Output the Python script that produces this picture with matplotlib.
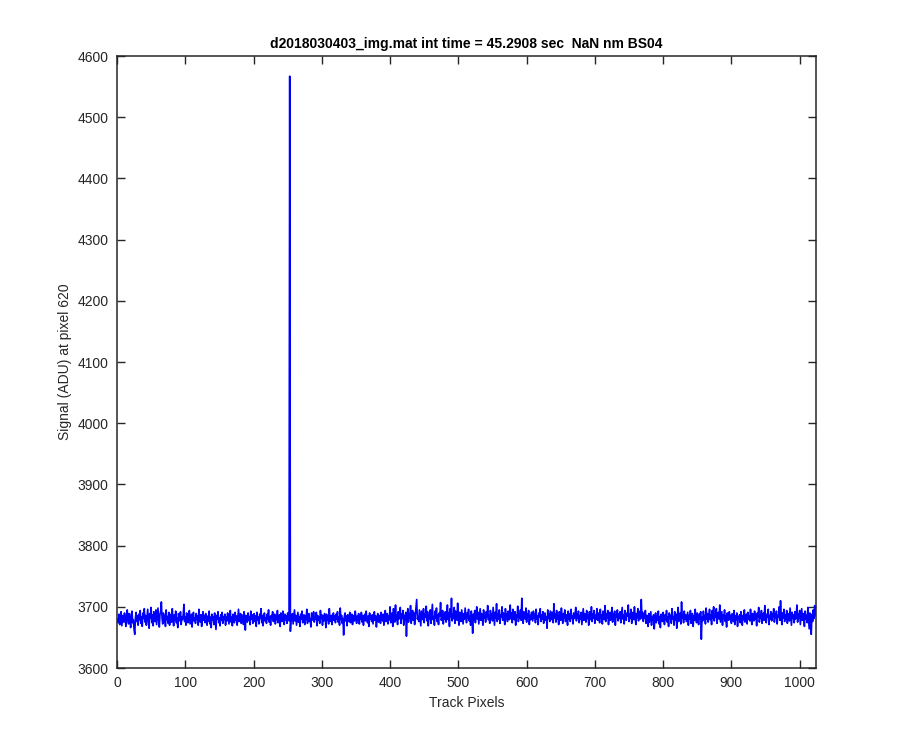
import numpy as np
import matplotlib
matplotlib.use('Agg')
import matplotlib.pyplot as plt

# signal at pixel 620 (track pixels 1..1024)
signal = [
    3680, 3674, 3688, 3671, 3683, 3692, 3669, 3678, 3686, 3675, 3690, 3681, 3668, 3684, 3695, 3677, 3672, 3689, 3680, 3666, 3687, 3693, 3674, 3679, 3663, 3655, 3682, 3691, 3676, 3685, 3670, 3688,
    3679, 3694, 3673, 3684, 3668, 3690, 3681, 3697, 3675, 3686, 3670, 3683, 3696, 3677, 3665, 3689, 3682, 3699, 3674, 3687, 3669, 3692, 3680, 3676, 3695, 3671, 3685, 3698, 3678, 3667, 3688, 3693,
    3708, 3681, 3672, 3690, 3676, 3686, 3668, 3695, 3679, 3684, 3673, 3691, 3670, 3683, 3688, 3675, 3697, 3680, 3669, 3687, 3678, 3693, 3674, 3682, 3666, 3689, 3685, 3677, 3692, 3671, 3684, 3679,
    3687, 3704, 3676, 3683, 3670, 3690, 3681, 3674, 3686, 3694, 3672, 3680, 3688, 3667, 3684, 3691, 3677, 3682, 3673, 3689, 3679, 3685, 3670, 3696, 3681, 3675, 3687, 3668, 3683, 3692, 3678, 3686,
    3674, 3689, 3681, 3670, 3685, 3677, 3693, 3672, 3683, 3666, 3688, 3679, 3684, 3671, 3690, 3676, 3663, 3686, 3680, 3692, 3674, 3682, 3669, 3687, 3678, 3691, 3673, 3684, 3679, 3688, 3670, 3683,
    3677, 3690, 3681, 3672, 3686, 3694, 3675, 3683, 3669, 3688, 3680, 3674, 3691, 3678, 3685, 3670, 3684, 3696, 3676, 3682, 3689, 3673, 3687, 3679, 3671, 3692, 3684, 3662, 3686, 3680, 3675, 3690,
    3678, 3684, 3671, 3693, 3680, 3687, 3673, 3682, 3689, 3676, 3685, 3668, 3691, 3679, 3683, 3672, 3688, 3681, 3697, 3674, 3686, 3669, 3684, 3690, 3677, 3682, 3673, 3688, 3680, 3695, 3675, 3684,
    3670, 3686, 3681, 3692, 3676, 3683, 3688, 3672, 3685, 3679, 3694, 3674, 3682, 3687, 3668, 3690, 3680, 3676, 3693, 3683, 3671, 3688, 3679, 3685, 3673, 3690, 3682, 3677, 4567, 3660, 3684, 3678,
    3689, 3672, 3683, 3695, 3677, 3686, 3670, 3681, 3691, 3675, 3684, 3668, 3688, 3680, 3693, 3674, 3682, 3687, 3671, 3685, 3679, 3696, 3673, 3683, 3689, 3676, 3681, 3667, 3690, 3684, 3678, 3692,
    3675, 3684, 3680, 3691, 3669, 3686, 3678, 3683, 3673, 3694, 3681, 3687, 3670, 3685, 3677, 3689, 3682, 3666, 3688, 3679, 3684, 3672, 3697, 3680, 3676, 3686, 3671, 3683, 3690, 3678, 3685, 3674,
    3688, 3680, 3692, 3675, 3683, 3670, 3698, 3679, 3686, 3673, 3681, 3654, 3684, 3690, 3677, 3685, 3669, 3687, 3682, 3676, 3691, 3674, 3683, 3688, 3671, 3680, 3686, 3677, 3693, 3682, 3673, 3685,
    3679, 3689, 3672, 3684, 3680, 3691, 3675, 3686, 3670, 3683, 3688, 3677, 3693, 3681, 3674, 3685, 3668, 3690, 3680, 3684, 3676, 3687, 3672, 3682, 3692, 3678, 3685, 3667, 3683, 3689, 3675, 3681,
    3686, 3673, 3691, 3680, 3677, 3688, 3670, 3684, 3694, 3676, 3682, 3689, 3672, 3685, 3679, 3700, 3674, 3683, 3690, 3668, 3697, 3681, 3675, 3703, 3678, 3686, 3671, 3692, 3680, 3684, 3699, 3673,
    3688, 3681, 3694, 3670, 3686, 3679, 3691, 3652, 3683, 3697, 3675, 3689, 3681, 3702, 3673, 3685, 3694, 3678, 3690, 3671, 3687, 3699, 3712, 3680, 3684, 3676, 3695, 3682, 3669, 3693, 3686, 3679,
    3697, 3674, 3689, 3683, 3701, 3677, 3692, 3669, 3686, 3680, 3695, 3673, 3688, 3704, 3679, 3684, 3670, 3693, 3682, 3698, 3676, 3687, 3671, 3690, 3685, 3707, 3678, 3683, 3694, 3672, 3688, 3680,
    3692, 3675, 3686, 3703, 3679, 3690, 3668, 3697, 3684, 3714, 3677, 3688, 3681, 3699, 3673, 3693, 3685, 3678, 3706, 3682, 3670, 3691, 3687, 3676, 3695, 3683, 3672, 3689, 3680, 3698, 3686, 3674,
    3690, 3681, 3696, 3677, 3685, 3670, 3693, 3682, 3657, 3688, 3679, 3694, 3674, 3686, 3700, 3680, 3691, 3672, 3684, 3697, 3678, 3689, 3683, 3670, 3695, 3681, 3687, 3675, 3692, 3684, 3702, 3679,
    3686, 3673, 3694, 3681, 3689, 3677, 3699, 3684, 3670, 3691, 3682, 3705, 3676, 3688, 3680, 3695, 3673, 3687, 3683, 3700, 3678, 3690, 3685, 3671, 3697, 3681, 3688, 3676, 3693, 3684, 3679, 3703,
    3682, 3690, 3674, 3696, 3685, 3679, 3692, 3670, 3687, 3683, 3701, 3676, 3689, 3681, 3695, 3678, 3714, 3684, 3673, 3692, 3686, 3680, 3698, 3675, 3688, 3683, 3694, 3671, 3686, 3679, 3691, 3684,
    3677, 3693, 3682, 3688, 3674, 3696, 3680, 3685, 3671, 3690, 3683, 3697, 3676, 3687, 3680, 3692, 3673, 3686, 3690, 3678, 3684, 3665, 3695, 3681, 3688, 3676, 3693, 3683, 3679, 3691, 3674, 3705,
    3682, 3688, 3675, 3694, 3680, 3686, 3671, 3692, 3683, 3678, 3698, 3684, 3673, 3689, 3681, 3695, 3676, 3687, 3683, 3670, 3693, 3680, 3688, 3676, 3696, 3682, 3685, 3672, 3690, 3681, 3686, 3699,
    3677, 3688, 3682, 3693, 3674, 3686, 3680, 3691, 3671, 3684, 3697, 3678, 3689, 3683, 3675, 3694, 3681, 3687, 3670, 3692, 3684, 3679, 3700, 3676, 3688, 3682, 3694, 3673, 3686, 3680, 3697, 3678,
    3690, 3683, 3674, 3696, 3681, 3687, 3672, 3693, 3685, 3679, 3702, 3676, 3688, 3682, 3694, 3671, 3686, 3691, 3678, 3684, 3699, 3675, 3689, 3681, 3693, 3670, 3686, 3683, 3695, 3677, 3688, 3681,
    3692, 3674, 3686, 3699, 3680, 3687, 3672, 3694, 3683, 3678, 3690, 3685, 3703, 3676, 3688, 3681, 3696, 3673, 3685, 3691, 3679, 3700, 3684, 3671, 3689, 3682, 3697, 3677, 3686, 3693, 3680, 3712,
    3683, 3691, 3676, 3688, 3681, 3694, 3673, 3686, 3680, 3668, 3689, 3675, 3684, 3692, 3670, 3683, 3679, 3687, 3664, 3681, 3690, 3674, 3685, 3678, 3693, 3672, 3684, 3666, 3688, 3680, 3676, 3691,
    3682, 3671, 3687, 3679, 3694, 3675, 3683, 3668, 3690, 3681, 3686, 3673, 3697, 3680, 3684, 3670, 3692, 3678, 3688, 3665, 3685, 3699, 3676, 3683, 3690, 3672, 3708, 3681, 3686, 3674, 3693, 3680,
    3687, 3676, 3684, 3691, 3670, 3686, 3680, 3694, 3673, 3683, 3689, 3668, 3685, 3678, 3696, 3681, 3674, 3690, 3683, 3671, 3688, 3680, 3692, 3647, 3684, 3677, 3693, 3682, 3686, 3672, 3698, 3680,
    3689, 3675, 3684, 3696, 3679, 3687, 3671, 3694, 3682, 3700, 3677, 3688, 3683, 3697, 3673, 3686, 3691, 3680, 3703, 3675, 3684, 3692, 3670, 3687, 3681, 3695, 3676, 3685, 3667, 3690, 3683, 3678,
    3692, 3680, 3686, 3673, 3689, 3682, 3676, 3694, 3671, 3685, 3679, 3690, 3668, 3684, 3681, 3687, 3674, 3692, 3683, 3670, 3686, 3679, 3695, 3675, 3683, 3688, 3672, 3691, 3680, 3685, 3677, 3696,
    3682, 3671, 3689, 3684, 3677, 3693, 3680, 3686, 3669, 3690, 3683, 3699, 3675, 3687, 3681, 3694, 3673, 3685, 3690, 3678, 3702, 3682, 3674, 3688, 3683, 3696, 3671, 3686, 3680, 3692, 3677, 3689,
    3684, 3697, 3675, 3688, 3681, 3693, 3672, 3686, 3683, 3700, 3678, 3710, 3685, 3671, 3690, 3682, 3696, 3676, 3687, 3680, 3694, 3673, 3685, 3689, 3677, 3698, 3683, 3670, 3691, 3681, 3687, 3674,
    3692, 3680, 3686, 3703, 3675, 3688, 3682, 3694, 3671, 3685, 3697, 3678, 3689, 3683, 3668, 3693, 3680, 3686, 3674, 3699, 3682, 3664, 3690, 3684, 3655, 3688, 3676, 3695, 3681, 3702, 3685, 3697,
]
pixels = np.arange(1, len(signal) + 1)

title = 'd2018030403_img.mat int time = 45.2908 sec  NaN nm BS04'
xticks = np.arange(0, 1001, 100)
yticks = np.arange(3600, 4601, 100)

plt.rcParams['font.family'] = ['Liberation Sans', 'DejaVu Sans']
plt.rc('font', size=10)

axcol = (0.15, 0.15, 0.15)

fig = plt.figure(figsize=(9, 7.5), dpi=100)
fig.patch.set_facecolor('white')
ax = fig.add_axes([0.13, 0.1093, 0.7767, 0.816])

ax.plot(pixels, signal, color=(0, 0, 1), linewidth=1.2)

ax.set_xlim(0, 1024)
ax.set_ylim(3600, 4600)
ax.set_xticks(xticks)
ax.set_yticks(yticks)
ax.tick_params(direction='in', length=6, width=1, colors=axcol, labelsize=10,
               top=True, right=True, labeltop=False, labelright=False, pad=6)
for s in ax.spines.values():
    s.set_color(axcol)
    s.set_linewidth(1.1)

ax.set_xlabel('Track Pixels', color=axcol, fontsize=10)
ax.set_ylabel('Signal (ADU) at pixel 620', color=axcol, fontsize=10)
ax.set_title(title, fontsize=10, fontweight='bold', color='black', pad=6)

fig.savefig('out.png', dpi=100, facecolor='white')
